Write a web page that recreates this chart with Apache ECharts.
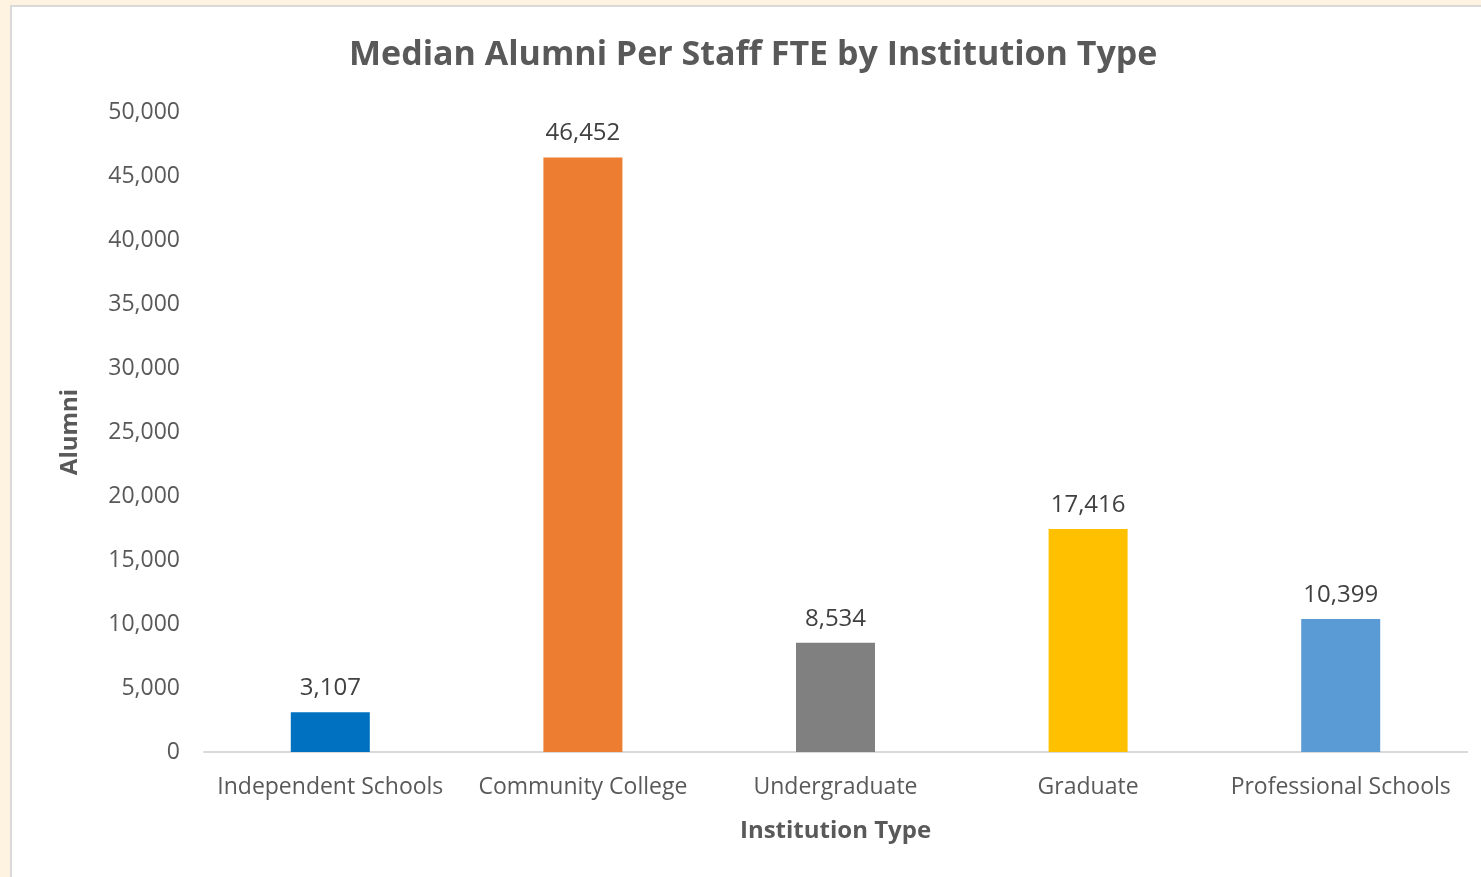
<!DOCTYPE html>
<html>
<head>
<meta charset="utf-8">
<script src="https://cdn.jsdelivr.net/npm/echarts@6/dist/echarts.min.js"></script>
<style>
  html, body { margin: 0; padding: 0; width: 1481px; height: 877px; background: #FEF3E0; overflow: hidden; }
  #frame { position: absolute; left: 10px; top: 5px; width: 1471px; height: 872px;
           border-left: 2px solid #D9D9D9; border-top: 2px solid #D9D9D9; background: #FFFFFF; box-sizing: border-box; }
  #chart { width: 1469px; height: 870px; }
</style>
</head>
<body>
<div id="frame"><div id="chart"></div></div>
<script>
// Median alumni per staff FTE, one bar per institution type
const categories = ['Independent Schools', 'Community College', 'Undergraduate', 'Graduate', 'Professional Schools'];
const alumni = [3107, 46452, 8534, 17416, 10399];
const barColors = ['#0070C0', '#ED7D31', '#808080', '#FFC000', '#5B9BD5'];

const FONT = '"Open Sans", Lato, sans-serif';
const chart = echarts.init(document.getElementById('chart'), null, { renderer: 'canvas' });

chart.setOption({
  animation: false,
  backgroundColor: '#FFFFFF',
  title: {
    text: 'Median Alumni Per Staff FTE by Institution Type',
    left: 337,
    top: 31,
    padding: 0,
    textStyle: { fontFamily: FONT, fontSize: 34, fontWeight: 'bold', color: '#595959' }
  },
  grid: { left: 192, right: 14, top: 105, bottom: 125, containLabel: false },
  xAxis: {
    type: 'category',
    data: categories,
    name: 'Institution Type',
    nameLocation: 'middle',
    nameGap: 67,
    nameTextStyle: { fontFamily: FONT, fontSize: 24, fontWeight: 'bold', color: '#595959' },
    axisLine: { lineStyle: { color: '#D9D9D9', width: 2 } },
    axisTick: { show: false },
    axisLabel: { interval: 0, fontFamily: FONT, fontSize: 23, color: '#595959', margin: 24 }
  },
  yAxis: {
    type: 'value',
    min: 0,
    max: 50000,
    interval: 5000,
    name: 'Alumni',
    nameLocation: 'middle',
    nameGap: 122,
    nameRotate: 90,
    nameTextStyle: { fontFamily: FONT, fontSize: 24, fontWeight: 'bold', color: '#595959' },
    axisLine: { show: false },
    axisTick: { show: false },
    splitLine: { show: false },
    axisLabel: {
      fontFamily: FONT, fontSize: 23, color: '#595959', margin: 24,
      formatter: v => v.toLocaleString('en-US')
    }
  },
  series: [{
    type: 'bar',
    barWidth: 79,
    data: alumni.map((v, i) => ({ value: v, itemStyle: { color: barColors[i] } })),
    label: {
      show: true,
      position: 'top',
      distance: 12,
      fontFamily: FONT, fontSize: 24, color: '#404040',
      formatter: p => p.value.toLocaleString('en-US')
    }
  }]
});
</script>
</body>
</html>
